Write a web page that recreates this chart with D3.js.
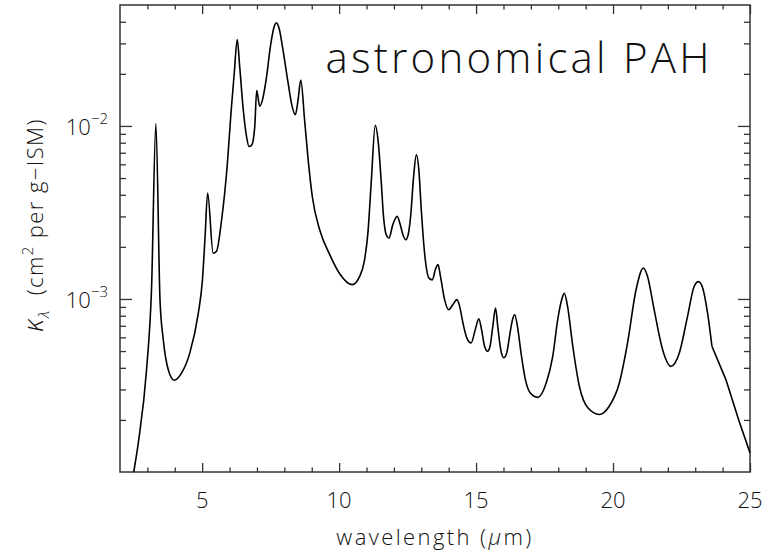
<!DOCTYPE html>
<html>
<head>
<meta charset="utf-8">
<script src="https://cdn.jsdelivr.net/npm/d3@7"></script>
<style>
  body { margin: 0; background: #fff; }
  text { font-family: "Open Sans", "Roboto", sans-serif; font-weight: 300; fill: #111; }
</style>
</head>
<body>
<div id="chart-area"></div>
<script>
// wavelength (micron) and opacity kappa (cm^2 per g-ISM)
var wavelength = [2.50, 2.67, 2.97, 3.15, 3.31, 3.46, 3.58, 3.76, 3.98, 4.25, 4.55, 4.86,
  5.01, 5.10, 5.20, 5.40, 5.52, 5.71, 5.89, 6.07, 6.17, 6.28, 6.37, 6.50, 6.62, 6.71, 6.81,
  6.92, 6.99, 7.10, 7.20, 7.35, 7.49, 7.61, 7.71, 7.81, 7.95, 8.14, 8.26, 8.40, 8.50, 8.60,
  8.74, 8.87, 9.02, 9.29, 9.66, 10.02, 10.48, 10.75, 10.93, 11.05, 11.17, 11.32, 11.42,
  11.54, 11.62, 11.72, 11.82, 11.96, 12.12, 12.23, 12.33, 12.43, 12.52, 12.61, 12.72, 12.82,
  12.91, 13.00, 13.12, 13.28, 13.40, 13.52, 13.61, 13.70, 13.85, 14.00, 14.15, 14.30, 14.40,
  14.52, 14.66, 14.82, 14.97, 15.10, 15.20, 15.31, 15.42, 15.51, 15.61, 15.71, 15.79, 15.90,
  16.01, 16.12, 16.24, 16.33, 16.41, 16.51, 16.64, 16.80, 16.98, 17.25, 17.56, 17.80, 17.98,
  18.14, 18.22, 18.34, 18.53, 18.77, 19.08, 19.50, 19.86, 20.23, 20.53, 20.84, 21.11, 21.26,
  21.50, 21.81, 22.11, 22.42, 22.72, 22.96, 23.12, 23.27, 23.45, 23.61, 24.12, 24.60, 25.00];
var kappa = [1.00e-4, 1.48e-4, 3.91e-4, 1.13e-3, 1.03e-2, 9.9e-4, 5.82e-4, 3.91e-4, 3.39e-4,
  3.74e-4, 4.88e-4, 8.3e-4, 1.29e-3, 2.20e-3, 4.09e-3, 1.84e-3, 1.88e-3, 2.87e-3, 5.33e-3,
  1.29e-2, 2.01e-2, 3.16e-2, 2.20e-2, 1.24e-2, 8.67e-3, 7.60e-3, 7.76e-3, 9.91e-3, 1.60e-2,
  1.30e-2, 1.41e-2, 1.92e-2, 2.87e-2, 3.66e-2, 3.94e-2, 3.66e-2, 2.75e-2, 1.76e-2, 1.35e-2,
  1.16e-2, 1.41e-2, 1.84e-2, 1.08e-2, 6.37e-3, 3.91e-3, 2.51e-3, 1.80e-3, 1.40e-3, 1.21e-3,
  1.35e-3, 1.69e-3, 2.40e-3, 4.67e-3, 1.01e-2, 8.30e-3, 4.67e-3, 3.00e-3, 2.35e-3, 2.25e-3,
  2.69e-3, 3.00e-3, 2.69e-3, 2.35e-3, 2.20e-3, 2.35e-3, 3.00e-3, 5.11e-3, 6.81e-3, 5.57e-3,
  3.27e-3, 1.84e-3, 1.32e-3, 1.29e-3, 1.49e-3, 1.58e-3, 1.35e-3, 9.91e-4, 8.67e-4, 9.27e-4,
  9.91e-4, 9.06e-4, 7.26e-4, 5.96e-4, 5.57e-4, 6.65e-4, 7.67e-4, 6.65e-4, 5.33e-4, 4.99e-4,
  5.33e-4, 6.95e-4, 8.87e-4, 6.95e-4, 5.09e-4, 4.57e-4, 4.88e-4, 6.37e-4, 7.60e-4, 8.11e-4,
  6.95e-4, 4.88e-4, 3.42e-4, 2.86e-4, 2.70e-4, 3.27e-4, 4.67e-4, 7.60e-4, 1.01e-3, 1.08e-3,
  9.06e-4, 5.33e-4, 3.13e-4, 2.35e-4, 2.15e-4, 2.40e-4, 3.27e-4, 5.57e-4, 1.13e-3, 1.51e-3,
  1.35e-3, 8.67e-4, 5.09e-4, 4.08e-4, 4.88e-4, 7.94e-4, 1.18e-3, 1.26e-3, 1.16e-3, 8.30e-4,
  5.33e-4, 3.42e-4, 1.97e-4, 1.29e-4];

var xMajor = [5, 10, 15, 20, 25];
var xMinor = [3, 4, 6, 7, 8, 9, 11, 12, 13, 14, 16, 17, 18, 19, 21, 22, 23, 24];
var yMajor = [1e-3, 1e-2];
var yMajorExp = ["\u22123", "\u22122"];
var yMinor = [2e-4, 3e-4, 4e-4, 5e-4, 6e-4, 7e-4, 8e-4, 9e-4,
  2e-3, 3e-3, 4e-3, 5e-3, 6e-3, 7e-3, 8e-3, 9e-3, 2e-2, 3e-2, 4e-2];

var margin = {left: 120, right: 18, top: 5, bottom: 80};
var width = 768 - margin.left - margin.right;
var height = 552 - margin.top - margin.bottom;

var svg = d3.select("#chart-area").append("svg")
  .attr("width", 768)
  .attr("height", 552);
var g = svg.append("g")
  .attr("transform", "translate(" + margin.left + "," + margin.top + ")");

var x = d3.scaleLinear().domain([2, 25]).range([0, width]);
var y = d3.scaleLog().domain([1e-4, 0.05]).range([height, 0]);

var axisColor = "#333";

function drawTicks(axisFn, scale, values, size, transform) {
  var a = g.append("g")
    .attr("transform", transform)
    .call(axisFn(scale).tickValues(values).tickSize(size).tickFormat(""));
  a.select(".domain").remove();
  a.selectAll("line").attr("stroke", axisColor).attr("stroke-width", 1.3);
  return a;
}

// ticks on all four sides, pointing inwards
drawTicks(d3.axisTop, x, xMajor, 9, "translate(0," + height + ")");
drawTicks(d3.axisTop, x, xMinor, 4.5, "translate(0," + height + ")");
drawTicks(d3.axisBottom, x, xMajor, 9, "translate(0,0)");
drawTicks(d3.axisBottom, x, xMinor, 4.5, "translate(0,0)");
drawTicks(d3.axisRight, y, yMajor, 12, "translate(0,0)");
drawTicks(d3.axisRight, y, yMinor, 6, "translate(0,0)");
drawTicks(d3.axisLeft, y, yMajor, 12, "translate(" + width + ",0)");
drawTicks(d3.axisLeft, y, yMinor, 6, "translate(" + width + ",0)");

g.append("rect")
  .attr("width", width).attr("height", height)
  .attr("fill", "none").attr("stroke", axisColor).attr("stroke-width", 1.5);

// x tick labels
g.selectAll(".xlab").data(xMajor).enter().append("text")
  .attr("class", "xlab")
  .attr("x", d => x(d))
  .attr("y", height + 36)
  .attr("text-anchor", "middle")
  .attr("font-size", 22)
  .text(d => d);

// y tick labels 10^n
var yl = g.selectAll(".ylab").data(yMajor).enter().append("text")
  .attr("class", "ylab")
  .attr("x", -12)
  .attr("y", d => y(d) + 9)
  .attr("text-anchor", "end")
  .attr("font-size", 22);
yl.append("tspan").text("10");
yl.append("tspan").attr("dy", -11).attr("font-size", 15).text((d, i) => yMajorExp[i]);

// axis titles
g.append("text")
  .attr("x", x(13.5))
  .attr("y", height + 73)
  .attr("text-anchor", "middle")
  .attr("font-size", 22)
  .attr("letter-spacing", 2.4)
  .html("wavelength (<tspan font-style='italic'>\u03bc</tspan>m)");

var yt = svg.append("text")
  .attr("transform", "translate(43,225) rotate(-90)")
  .attr("text-anchor", "middle")
  .attr("font-size", 22)
  .attr("letter-spacing", 1.4);
yt.append("tspan").attr("font-style", "italic").attr("font-size", 27).text("\u03ba");
yt.append("tspan").attr("dy", 6).attr("font-size", 15).attr("font-style", "italic").text("\u03bb");
yt.append("tspan").attr("dy", -6).text("\u00a0\u00a0(cm");
yt.append("tspan").attr("dy", -10).attr("font-size", 15).text("2");
yt.append("tspan").attr("dy", 10).text(" per g\u2212ISM)");

// annotation
g.append("text")
  .attr("x", x(9.5))
  .attr("y", 68)
  .attr("font-size", 42)
  .attr("textLength", 384)
  .text("astronomical PAH");

// spectrum: smooth through the bands, straight tail beyond 23.6 micron
var pts = wavelength.map((w, i) => ({w: w, k: kappa[i]}));
var line = d3.line()
  .x(d => x(d.w))
  .y(d => y(d.k))
  .curve(d3.curveMonotoneX);
var tail = d3.line()
  .x(d => x(d.w))
  .y(d => y(d.k));

g.append("path")
  .datum(pts.filter(d => d.w <= 23.61))
  .attr("fill", "none")
  .attr("stroke", "#000")
  .attr("stroke-width", 1.6)
  .attr("d", line);
g.append("path")
  .datum(pts.filter(d => d.w >= 23.61))
  .attr("fill", "none")
  .attr("stroke", "#000")
  .attr("stroke-width", 1.6)
  .attr("d", tail);
</script>
</body>
</html>
